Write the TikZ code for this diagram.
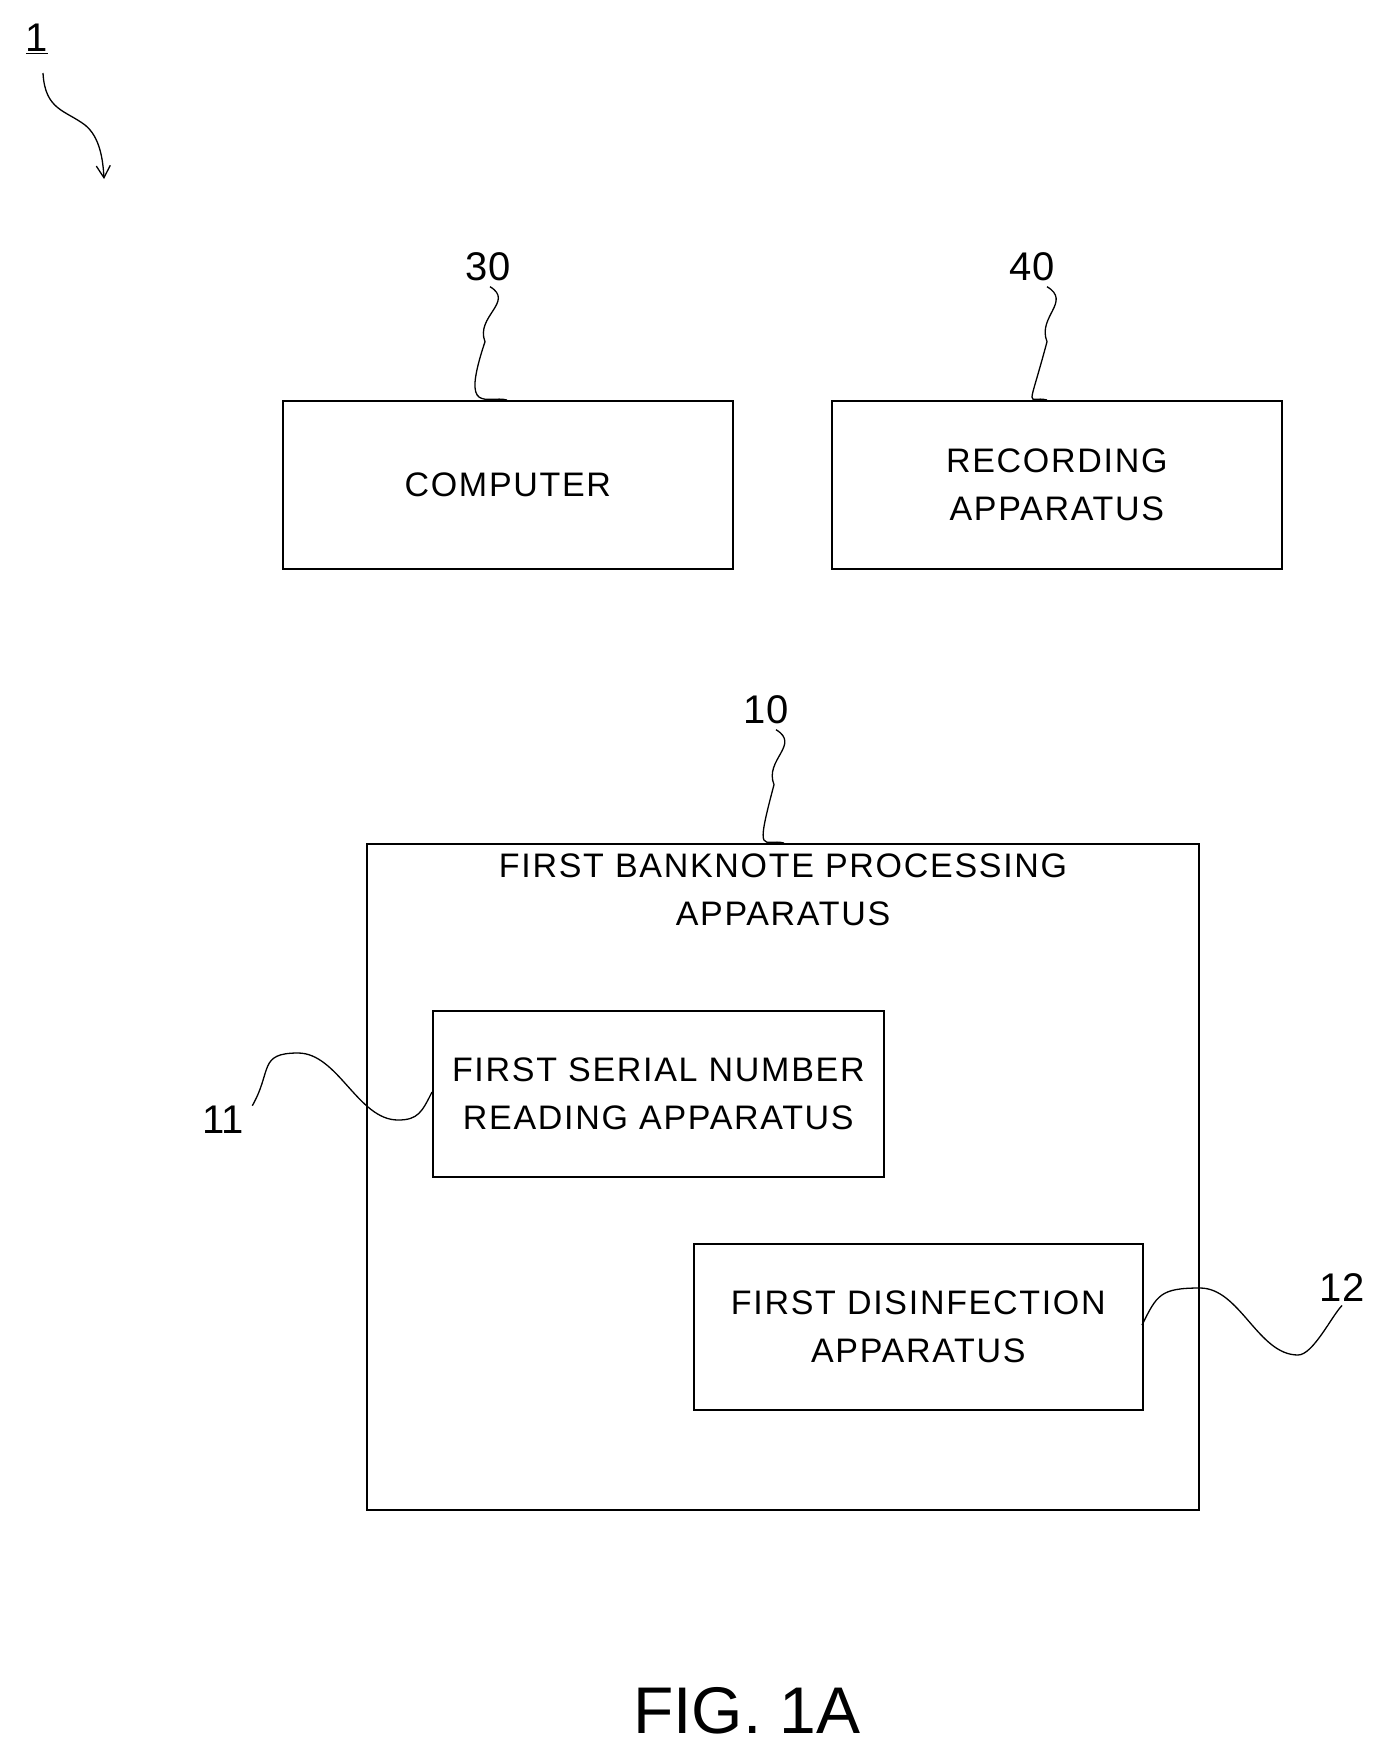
\documentclass[tikz,border=0pt]{standalone}
\usepackage{fontspec}
\setmainfont{Liberation Sans}
\usetikzlibrary{arrows.meta}
\begin{document}
\begin{tikzpicture}[x=1pt,y=-1pt,
 box/.style={draw,line width=1.6pt,inner sep=0pt},
 txt/.style={font=\fontsize{34}{48}\selectfont\addfontfeatures{LetterSpace=5},align=center},
 num/.style={font=\fontsize{40}{44}\selectfont},
 lead/.style={line width=1.3pt}]
\useasboundingbox (0,0) rectangle (1388,1761);
\node[box,minimum width=450,minimum height=168,anchor=north west,txt] (comp) at (282,400) {COMPUTER};
\node[box,minimum width=450,minimum height=168,anchor=north west,txt] (rec) at (831,400) {RECORDING\\APPARATUS};
\node[box,minimum width=832,minimum height=666,anchor=north west] (bp) at (366,843) {};
\node[txt,anchor=north] (bpt) at (783,850) {FIRST BANKNOTE PROCESSING\\APPARATUS};
\node[box,minimum width=451,minimum height=166,anchor=north west,txt] (ser) at (432,1010) {FIRST SERIAL NUMBER\\READING APPARATUS};
\node[box,minimum width=449,minimum height=166,anchor=north west,txt] (dis) at (693,1243) {FIRST DISINFECTION\\APPARATUS};
\node[num] (n30) at (488,267) {30};
\node[num] (n40) at (1032,267) {40};
\node[num] (n10) at (766,710) {10};
\node[num] (n11) at (223,1120) {11};
\node[num] (n12) at (1342,1288) {12};
\node[num] (n1) at (37,39) {\underline{1}};
\coordinate (c30) at (507,400);
\coordinate (c40) at (1047,400);
\coordinate (c10) at (784,843);
\coordinate (c11) at (432,1092);
\coordinate (c12) at (1142,1325);
\draw[lead] (n30.south) ++(2,2) .. controls +(25,15) and +(-10,-25) .. +(-5,55) .. controls +(-25,75) and +(-20,-5) .. (c30);
\draw[lead] (n40.south) ++(15,2) .. controls +(25,15) and +(-10,-25) .. +(0,55) .. controls +(-20,75) and +(-20,-5) .. (c40);
\draw[lead] (n10.south) ++(10,2) .. controls +(25,15) and +(-10,-25) .. +(-2,55) .. controls +(-20,75) and +(-20,-5) .. (c10);
\draw[lead] (n11.north east) ++(5,3) .. controls +(20,-35) and +(-40,0) .. (298,1053) .. controls +(40,0) and +(-40,0) .. (398,1120) .. controls +(20,0) and +(-10,20) .. (c11);
\draw[lead] (c12) .. controls +(15,-30) and +(-40,0) .. (1200,1288) .. controls +(40,0) and +(-40,0) .. (1298,1355) .. controls +(15,0) and +(-10,10) .. (n12.south);
\draw[lead,-{Straight Barb[length=12pt,width=14pt]}] (43,73) .. controls (45,110) and (65,110) .. (85,125) .. controls (100,137) and (103,160) .. (104,179);
\node[font=\fontsize{66}{70}\selectfont] (fig) at (747,1711) {FIG. 1A};
\end{tikzpicture}
\end{document}
